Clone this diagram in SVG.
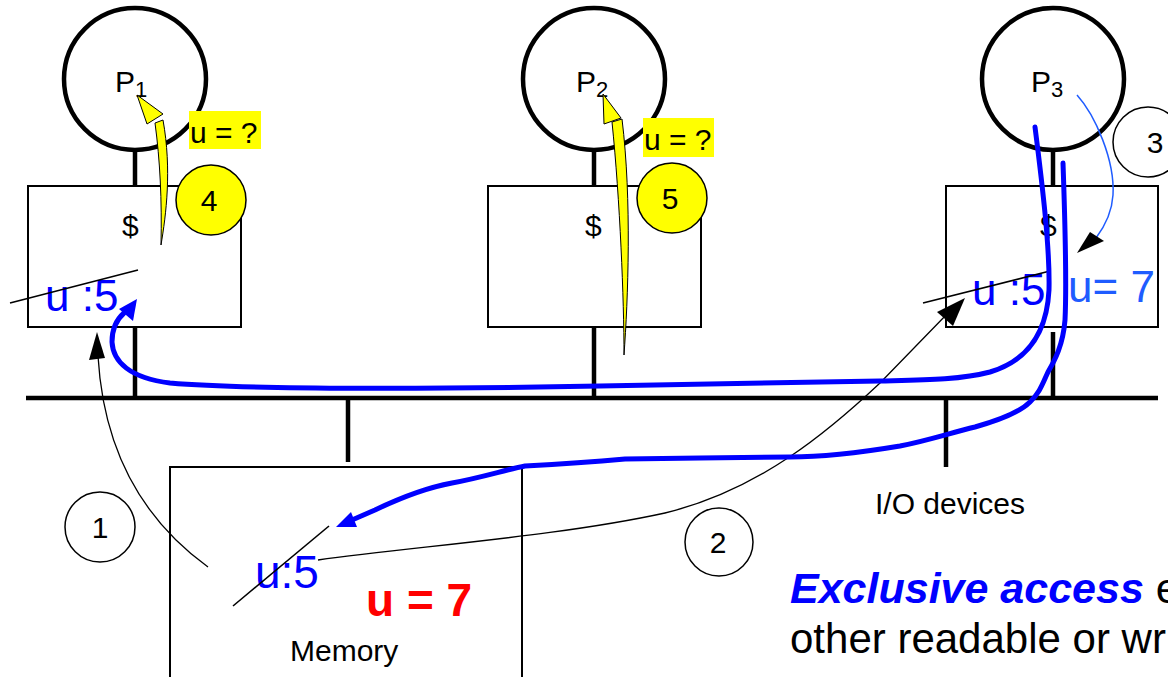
<svg xmlns="http://www.w3.org/2000/svg" width="1168" height="677" viewBox="0 0 1168 677">
<style>
text{font-family:"Liberation Sans",Arial,sans-serif}
.proc{fill:#fff;stroke:#000;stroke-width:4.5}
.box{fill:#fff;stroke:#000;stroke-width:2}
.stem{stroke:#000;stroke-width:4.5;fill:none}
.lbl{font-size:30px;fill:#000}
.sub{font-size:22px}
.num{fill:#fff;stroke:#000;stroke-width:1.5}
.ynum{fill:#ffff00;stroke:#000;stroke-width:1.5}
.ntxt{font-size:30px;text-anchor:middle}
.strike{stroke:#000;stroke-width:1.6;fill:none}
.thin{stroke:#000;stroke-width:1.3;fill:none}
.blue{stroke:#0000ff;stroke-width:5;fill:none;stroke-linejoin:round;stroke-linecap:round}
.yarrow{fill:#ffff00;stroke:#000;stroke-width:1}
</style>
<rect width="1168" height="677" fill="#fff"/>
<g id="bus">
<line class="stem" x1="26" y1="398" x2="1158" y2="398"/>
</g>
<g id="p1">
<line class="stem" x1="135" y1="150" x2="135" y2="186"/>
<line class="stem" x1="135" y1="327" x2="135" y2="398"/>
<circle class="proc" cx="135" cy="79" r="71"/>
<text class="lbl" x="115" y="92">P<tspan class="sub" dy="5">1</tspan></text>
</g>
<g id="cache1">
<rect class="box" x="28" y="186" width="213" height="141"/>
<text class="lbl" x="122" y="236">$</text>
<text x="45" y="311" font-size="44" fill="#0000ff">u :5</text>
<line class="strike" x1="10" y1="303" x2="138" y2="270"/>
</g>
<g id="p2">
<line class="stem" x1="594" y1="150" x2="594" y2="186"/>
<line class="stem" x1="594" y1="327" x2="594" y2="398"/>
<circle class="proc" cx="594" cy="79" r="71"/>
<text class="lbl" x="576" y="92">P<tspan class="sub" dy="5">2</tspan></text>
</g>
<g id="cache2">
<rect class="box" x="488" y="186" width="213" height="141"/>
<text class="lbl" x="585" y="236">$</text>
</g>
<g id="p3">
<line class="stem" x1="1053" y1="150" x2="1053" y2="186"/>
<line class="stem" x1="1053" y1="332" x2="1053" y2="398"/>
<circle class="proc" cx="1053" cy="79" r="71"/>
<text class="lbl" x="1031" y="92">P<tspan class="sub" dy="5">3</tspan></text>
</g>
<g id="cache3">
<rect class="box" x="946" y="186" width="212" height="141"/>
<text class="lbl" x="1040" y="236">$</text>
<text x="972" y="305" font-size="44" fill="#0000ff">u :5</text>
<text x="1068" y="302" font-size="44" fill="#1f5cff">u= 7</text>
<line class="strike" x1="923" y1="303" x2="1050" y2="271"/>
</g>
<g id="memory">
<line class="stem" x1="348" y1="398" x2="348" y2="462"/>
<rect class="box" x="170" y="467" width="352" height="230"/>
<text x="255" y="588" font-size="46" fill="#0000ff">u:5</text>
<line class="strike" x1="233" y1="606" x2="329" y2="526"/>
<text x="366" y="616" font-size="46" font-weight="bold" fill="#ff0000">u = 7</text>
<text class="lbl" x="290" y="661">Memory</text>
</g>
<g id="io">
<line class="stem" x1="946" y1="398" x2="946" y2="467"/>
<text class="lbl" x="875" y="514">I/O devices</text>
</g>
<g id="connectors">
<path class="thin" d="M208,567 C150,525 104,460 98,356"/>
<polygon points="97,332 89,360 105,358" fill="#000"/>
<path class="thin" d="M318,560 C420,546 560,536 665,513 C760,490 830,430 880,383 L948,313"/>
<polygon points="965,298 937,312 953,326" fill="#000"/>
<path d="M1077,95 C1095,115 1115,160 1113,195 C1112,212 1105,226 1096,238" stroke="#1f5cff" stroke-width="1.5" fill="none"/>
<polygon points="1077,253 1090,232 1104,241" fill="#000"/>
<path class="blue" d="M1035,127 C1043,190 1050,250 1049,290 C1047,330 1030,360 990,372 C960,380 920,380 880,381 L600,386 C450,389 250,390 170,383 C130,378 113,362 112,342 C112,330 116,320 124,313"/>
<polygon points="137,299 119,309 133,321" fill="#0000ff"/>
<path class="blue" d="M1063,163 C1065,220 1067,280 1065,320 C1063,345 1055,360 1048,372 C1042,385 1040,392 1030,402 C1020,412 1000,420 975,427 C950,433 930,440 900,446 C870,451 830,457 790,457 L700,458 L625,459 C590,462 560,464 525,466 C505,470 480,478 452,483 C425,488 400,498 375,510 L352,520" stroke-width="4.5"/>
<polygon points="336,527 351,512 357,527" fill="#0000ff"/>
<path class="yarrow" d="M161,245 C166,215 172,170 163,120 L155,123 C160,160 162,200 161,245 Z"/>
<polygon class="yarrow" points="137,95 147,124 163,114"/>
<path class="yarrow" d="M624,355 C628,300 632,200 622,119 L612,122 C620,200 624,300 624,355 Z"/>
<polygon class="yarrow" points="603,94 604,124 621,118"/>
</g>
<g id="label-u1">
<rect x="189" y="111" width="72" height="38" fill="#ffff00"/>
<text x="190" y="143" font-size="30">u = ?</text>
</g>
<g id="label-u2">
<rect x="643" y="118" width="71" height="39" fill="#ffff00"/>
<text x="644" y="150" font-size="30">u = ?</text>
</g>
<g id="step1"><circle class="num" cx="100" cy="527" r="35"/><text class="ntxt" x="100" y="538">1</text></g>
<g id="step2"><circle class="num" cx="719" cy="542" r="34"/><text class="ntxt" x="718" y="553">2</text></g>
<g id="step3"><circle class="num" cx="1148" cy="142" r="35"/><text class="ntxt" x="1155" y="153">3</text></g>
<g id="step4"><circle class="ynum" cx="211" cy="200" r="35"/><text class="ntxt" x="209" y="211">4</text></g>
<g id="step5"><circle class="ynum" cx="672" cy="198" r="35"/><text class="ntxt" x="670" y="209">5</text></g>
<g id="note">
<text x="790" y="603" font-size="43"><tspan font-weight="bold" font-style="italic" fill="#0000ff">Exclusive access</tspan> e</text>
<text x="790" y="653" font-size="42">other readable or wr</text>
</g>
</svg>
